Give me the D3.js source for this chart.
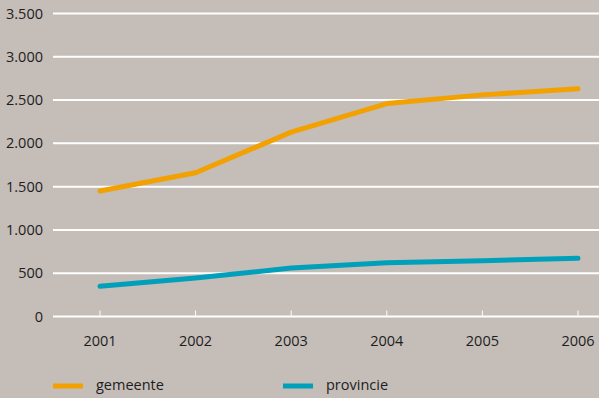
<!DOCTYPE html>
<html>
<head>
<meta charset="utf-8">
<script src="https://d3js.org/d3.v7.min.js"></script>
<style>
  body { margin: 0; background: #c4bdb8; }
  svg text { font-family: "Open Sans", "DejaVu Sans", sans-serif; fill: #1e1e1e; }
</style>
</head>
<body>
<svg id="chart" width="599" height="398"></svg>
<script>
// values
const years = [2001, 2002, 2003, 2004, 2005, 2006];
const gemeente = [1450, 1660, 2130, 2460, 2560, 2630];
const provincie = [350, 445, 560, 620, 645, 672];
const yTicks = [0, 500, 1000, 1500, 2000, 2500, 3000, 3500];
const seriesNames = ["gemeente", "provincie"];
const seriesColors = ["#f2a100", "#00a0bb"];

const svg = d3.select("#chart");
const W = 599, H = 398;
svg.append("rect").attr("width", W).attr("height", H).attr("fill", "#c4bdb8");

const x = d3.scalePoint().domain(years).range([100, 578]);
const y = d3.scaleLinear().domain([0, 3500]).range([316.5, 13.5]);

const fmt = v => d3.format(",")(v).replace(/,/g, ".");

// grid lines
const grid = svg.append("g");
grid.selectAll("line").data(yTicks).join("line")
  .attr("x1", 53).attr("x2", W)
  .attr("y1", d => y(d)).attr("y2", d => y(d))
  .attr("stroke", "#fff").attr("stroke-width", 2);

grid.selectAll("text").data(yTicks).join("text")
  .attr("x", 43).attr("y", d => y(d)).attr("dy", "0.35em")
  .attr("text-anchor", "end").attr("font-size", 14.5)
  .text(fmt);

// x ticks + labels
const xg = svg.append("g");
xg.selectAll("line").data(years).join("line")
  .attr("x1", d => x(d)).attr("x2", d => x(d))
  .attr("y1", y(0) - 6).attr("y2", y(0))
  .attr("stroke", "#fff").attr("stroke-width", 1);
xg.selectAll("text").data(years).join("text")
  .attr("x", d => x(d)).attr("y", 341).attr("dy", "0.35em")
  .attr("text-anchor", "middle").attr("font-size", 14.5)
  .text(d => d);

// lines
const line = d3.line().x((d, i) => x(years[i])).y(d => y(d));
[gemeente, provincie].forEach((s, i) => {
  svg.append("path").datum(s)
    .attr("d", line)
    .attr("fill", "none")
    .attr("stroke", seriesColors[i])
    .attr("stroke-width", 5)
    .attr("stroke-linecap", "round")
    .attr("stroke-linejoin", "round");
});

// legend
const legX = [53, 283];
seriesNames.forEach((n, i) => {
  const g = svg.append("g").attr("transform", `translate(${legX[i]},386)`);
  g.append("line").attr("x1", 0).attr("x2", 30).attr("y1", 0).attr("y2", 0)
    .attr("stroke", seriesColors[i]).attr("stroke-width", 5);
  g.append("text").attr("x", 43).attr("y", 0).attr("dy", "0.3em")
    .attr("font-size", 14.5).text(n);
});
</script>
</body>
</html>
